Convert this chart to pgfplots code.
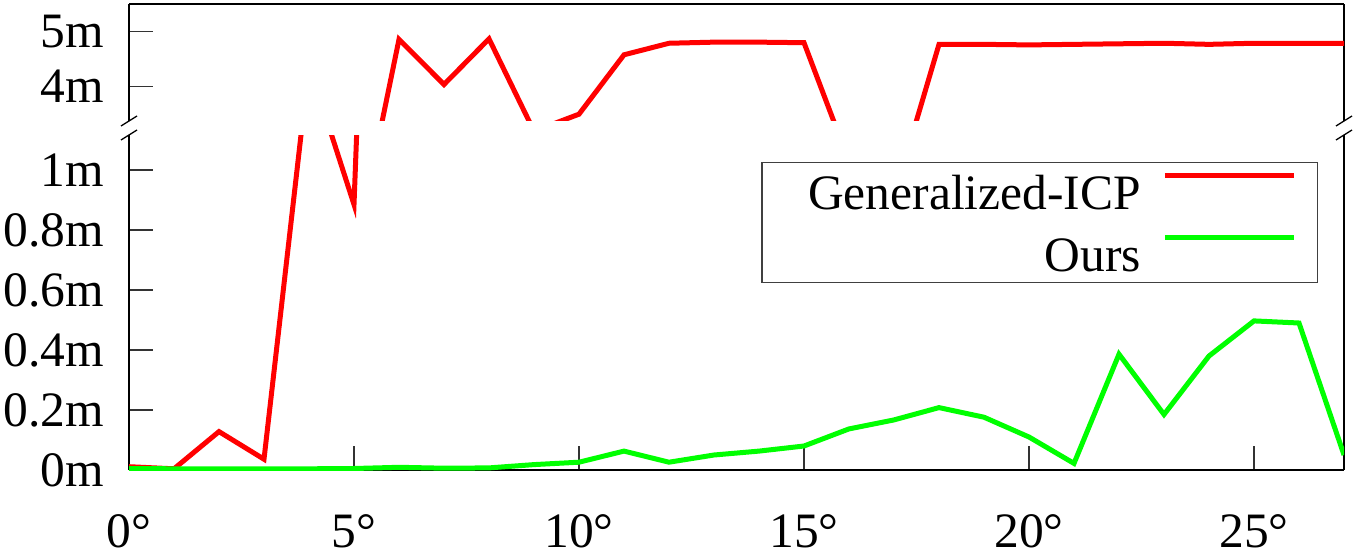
\documentclass[border=0pt]{standalone}
\usepackage{pgfplots}
\usepackage{pgfplotstable}
\pgfplotsset{compat=1.18}
\usepackage{fontspec}
\setmainfont{Liberation Serif}
\definecolor{gicp}{RGB}{255,0,0}
\definecolor{ours}{RGB}{0,255,0}
\pgfplotstableread{
x y
0 0.011
1 0.004
2 0.128
3 0.036
4 1.35
5 0.885
6 4.86
7 4.04
8 4.87
9 3.19
10 3.50
11 4.58
12 4.79
13 4.81
14 4.81
15 4.80
16 2.64
17 2.00
18 4.77
19 4.77
20 4.76
21 4.77
22 4.78
23 4.79
24 4.77
25 4.79
26 4.79
27 4.79
}\gicpdata
\pgfplotstableread{
x y
0 0.005
1 0.004
2 0.004
3 0.004
4 0.004
5 0.005
6 0.009
7 0.006
8 0.007
9 0.018
10 0.026
11 0.063
12 0.026
13 0.050
14 0.063
15 0.080
16 0.137
17 0.167
18 0.208
19 0.176
20 0.110
21 0.022
22 0.386
23 0.185
24 0.380
25 0.497
26 0.490
27 0.050
}\oursdata
\begin{document}
\begin{tikzpicture}
\pgfplotsset{
  brk/.style={
    scale only axis, width=1215pt, xmin=0, xmax=27,
    axis y line*=box, tick align=inside, ytick pos=left,
    major tick length=24pt,
    tick style={line width=1.3pt, black!80},
    axis line style={line width=1.8pt},
    tick label style={font=\fontsize{49.5}{58}\selectfont, inner sep=0pt},
    yticklabel style={xshift=-25pt},
  }
}
\begin{axis}[brk, name=bot, at={(129pt,80pt)}, anchor=south west,
  height=335pt, ymin=0, ymax=1.1167,
  axis x line*=bottom,
  xtick={0,5,10,15,20,25},
  xticklabels={0°,5°,10°,15°,20°,25°},
  xticklabel style={yshift=-44pt},
  ytick={0,0.2,0.4,0.6,0.8,1},
  yticklabels={0m,0.2m,0.4m,0.6m,0.8m,1m},
  legend plot pos=right,
  legend cell align=right,
  legend image code/.code={\draw[#1,line cap=butt] (0pt,16.5pt) -- (129pt,16.5pt); \path (0pt,0pt);},
  legend style={at={(0.9786,0.9203)}, anchor=north east, draw=black!75, line width=1.5pt,
    inner xsep=21pt, inner ysep=11pt, row sep=25pt, column sep=21.5pt,
    nodes={inner sep=0pt, text height=35pt, text depth=0pt, font=\fontsize{49.5}{58}\selectfont}},
]
\addplot[gicp, line width=5pt, line join=miter] table[x=x,y=y] {\gicpdata};
\addlegendentry{\hspace*{25pt}Generalized-ICP}
\addplot[ours, line width=5pt, line join=miter] table[x=x,y=y] {\oursdata};
\addlegendentry{Ours}
\end{axis}
\begin{axis}[brk, name=top, at={(129pt,429pt)}, anchor=south west,
  height=117pt, ymin=3.376, ymax=5.504,
  axis x line*=top,
  xtick=\empty,
  ytick={4,5},
  yticklabels={4m,5m},
]
\addplot[gicp, line width=5pt, line join=miter] table[x=x,y=y] {\gicpdata};
\end{axis}
\foreach \a in {top.south west, top.south east, bot.north west, bot.north east}{
  \draw[line width=1.3pt] ([shift={(-8pt,-5pt)}]\a) -- ([shift={(8pt,5pt)}]\a);
}
\pgfresetboundingbox
\useasboundingbox (0,0) rectangle (1354pt,550pt);
\end{tikzpicture}
\end{document}
